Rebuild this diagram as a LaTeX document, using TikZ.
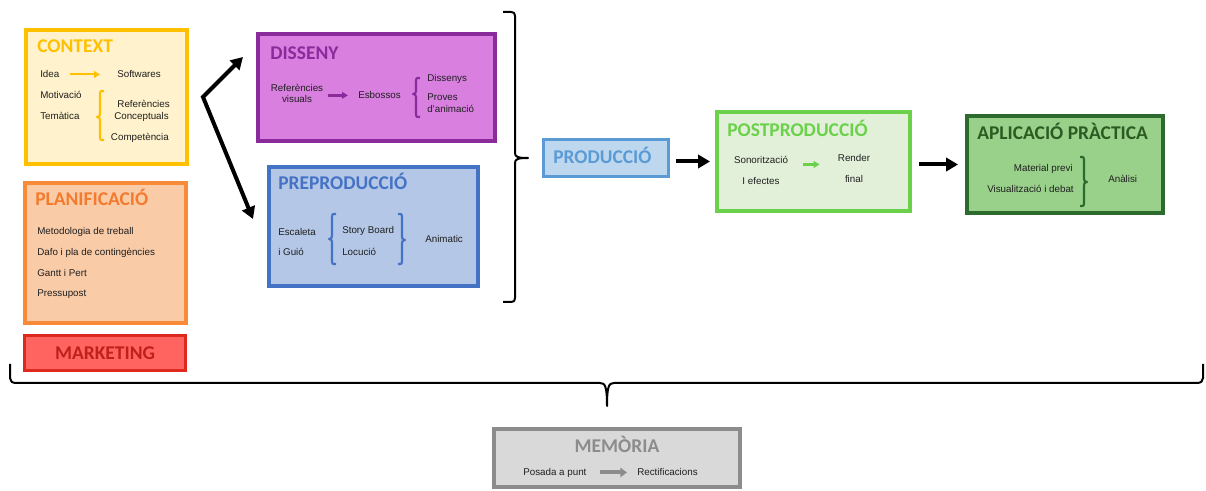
\documentclass[tikz,border=0pt]{standalone}
\usepackage{fontspec}
\setmainfont{Liberation Sans}
\newfontfamily\ttlfont{Carlito}
\usetikzlibrary{arrows.meta}
\definecolor{ctxB}{HTML}{FFC000}\definecolor{ctxF}{HTML}{FFF2CC}
\definecolor{planB}{HTML}{F98A38}\definecolor{planF}{HTML}{F9CBA7}\definecolor{planT}{HTML}{F47B2E}
\definecolor{mkB}{HTML}{DE2A1E}\definecolor{mkF}{HTML}{FF6461}\definecolor{mkT}{HTML}{C0201A}
\definecolor{disB}{HTML}{8A2B9C}\definecolor{disF}{HTML}{D97FE0}
\definecolor{preB}{HTML}{4472C4}\definecolor{preF}{HTML}{B4C7E7}
\definecolor{prodB}{HTML}{5B9BD5}\definecolor{prodF}{HTML}{BDD7EE}
\definecolor{postB}{HTML}{6BD14A}\definecolor{postF}{HTML}{E2F0D9}
\definecolor{aplB}{HTML}{2D6A2D}\definecolor{aplF}{HTML}{99D18A}\definecolor{aplT}{HTML}{2B5B22}
\definecolor{memB}{HTML}{8C8C8C}\definecolor{memF}{HTML}{D9D9D9}
% #1 colour, #2 x, #3 top, #4 bottom, #5 tip y, #6 direction (+1 hooks right / tip left, -1 mirrored)
\newcommand\brac[6]{%
  \draw[#1, line width=1.6pt, line join=round]
    ({#2+4*#6},#3) .. controls (#2,#3) and (#2,#3) .. (#2,{#3+3})
    -- (#2,{#5-3}) .. controls (#2,{#5-1}) and ({#2-1*#6},#5) .. ({#2-3*#6},#5)
    .. controls ({#2-1*#6},#5) and (#2,{#5+1}) .. (#2,{#5+3})
    -- (#2,{#4-3}) .. controls (#2,#4) and (#2,#4) .. ({#2+4*#6},#4);}
\begin{document}
\begin{tikzpicture}[x=0.75pt,y=-0.75pt,
  txt/.style={inner sep=0pt, font=\fontsize{7.35}{8.5}\selectfont, text=black!88},
  ttl/.style={inner sep=0pt, font=\ttlfont\bfseries\fontsize{14.6}{16}\selectfont},
  box/.style={draw, line width=3pt, inner sep=0pt},
  bigarrow/.style={line width=3pt, -{Triangle[length=9pt,width=10pt]}},
  smallarrow/.style={line width=#1, -{Triangle[length=4.5pt,width=5pt]}},
]
\useasboundingbox (0,0) rectangle (1206,491);

% ---------- boxes ----------
\node[box, draw=ctxB, fill=ctxF, minimum width=120.75pt, minimum height=100.5pt] (ctx) at (106.5,97) {};
\node[box, draw=planB, fill=planF, minimum width=120.75pt, minimum height=105pt] (plan) at (105.5,253) {};
\node[box, line width=2.25pt, draw=mkB, fill=mkF, minimum width=120.75pt, minimum height=26.25pt] (mk) at (105,353) {};
\node[box, draw=disB, fill=disF, minimum width=177.75pt, minimum height=80.25pt] (dis) at (376.5,87.5) {};
\node[box, draw=preB, fill=preF, minimum width=156.75pt, minimum height=89.25pt] (pre) at (373.5,226.5) {};
\node[box, line width=2.25pt, draw=prodB, fill=prodF, minimum width=93.75pt, minimum height=27.75pt] (prod) at (606,158) {};
\node[box, draw=postB, fill=postF, minimum width=144.75pt, minimum height=74.25pt] (post) at (813.5,161.5) {};
\node[box, draw=aplB, fill=aplF, minimum width=147pt, minimum height=72.75pt] (apl) at (1065,164.5) {};
\node[box, draw=memB, fill=memF, minimum width=184.5pt, minimum height=43.5pt] (mem) at (617,458) {};

% ---------- titles ----------
\node[ttl, text=ctxB, anchor=base west] (tctx) at (37,53) {CONTEXT};
\node[ttl, text=planT, anchor=base west] (tplan) at (35,206) {PLANIFICACIÓ};
\node[ttl, text=mkT, anchor=base] (tmk) at (105,360) {MARKETING};
\node[ttl, text=disB, anchor=base west] (tdis) at (270,60) {DISSENY};
\node[ttl, text=preB, anchor=base west] (tpre) at (278,190) {PREPRODUCCIÓ};
\node[ttl, text=prodB, anchor=base west] (tprod) at (553,164) {PRODUCCIÓ};
\node[ttl, text=postB, anchor=base west] (tpost) at (727,137) {POSTPRODUCCIÓ};
\node[ttl, text=aplT, anchor=base west] (tapl) at (977,140) {APLICACIÓ PRÀCTICA};
\node[ttl, text=memB, anchor=base] (tmem) at (617,452) {MEMÒRIA};

% ---------- CONTEXT content ----------
\node[txt, anchor=base west] (idea) at (40,78) {Idea};
\node[txt, anchor=base west] (soft) at (117,78) {Softwares};
\node[txt, anchor=base west] (moti) at (40,99) {Motivació};
\node[txt, anchor=base west] (tema) at (40,120) {Temàtica};
\node[txt, anchor=base east] (refc) at (170,108) {Referències};
\node[txt, anchor=base east] (conc) at (169,120) {Conceptuals};
\node[txt, anchor=base east] (comp) at (169,141) {Competència};
\draw[ctxB, smallarrow=1.5pt, shorten <=7.5pt, shorten >=12.75pt] (idea.east) -- (soft.west |- idea.east);
\brac{ctxB}{100}{91}{140}{117}{1}

% ---------- PLANIFICACIO content ----------
\node[txt, anchor=base west] (p1) at (37,235) {Metodologia de treball};
\node[txt, anchor=base west] (p2) at (37,256) {Dafo i pla de contingències};
\node[txt, anchor=base west] (p3) at (37,277) {Gantt i Pert};
\node[txt, anchor=base west] (p4) at (37,297) {Pressupost};

% ---------- DISSENY content ----------
\node[txt, anchor=base] (rv1) at (297,92) {Referències};
\node[txt, anchor=base] (rv2) at (297,103) {visuals};
\node[txt, anchor=base west] (esb) at (358,99) {Esbossos};
\draw[disB, smallarrow=2.2pt, shorten <=3.75pt, shorten >=7.5pt] ([yshift=-2.25pt]rv1.south east) -- ([yshift=-2.25pt]rv1.south east -| esb.west);
\brac{disB}{416}{78}{117}{94}{1}
\node[txt, anchor=base west] (dsn) at (427,82) {Dissenys};
\node[txt, anchor=base west] (prv) at (427,101) {Proves};
\node[txt, anchor=base west] (dan) at (427,113) {d'animació};

% ---------- PREPRODUCCIO content ----------
\node[txt, anchor=base west] (esc) at (278,236) {Escaleta};
\node[txt, anchor=base west] (gui) at (278,256) {i Guió};
\brac{preB}{332}{214}{264}{239}{1}
\node[txt, anchor=base west] (sb) at (342,234) {Story Board};
\node[txt, anchor=base west] (loc) at (342,256) {Locució};
\brac{preB}{402}{214}{264}{240}{-1}
\node[txt, anchor=base west] (anim) at (425,243) {Animatic};

% ---------- big right brace ----------
\draw[line width=1.5pt, line join=round]
  (503,12) -- (511,12) .. controls (514,12) and (515,13) .. (515,16)
  -- (515,153) .. controls (515,157) and (518,158) .. (528,158)
  .. controls (518,158) and (515,159) .. (515,163)
  -- (515,298) .. controls (515,301) and (514,302) .. (511,302) -- (503,302);

% ---------- fork arrows ----------
\coordinate (fork) at (203,97);
\coordinate (dtip) at (243,57);
\coordinate (ptip) at (253,219);
\draw[line width=3pt, line join=miter, {Triangle[length=9pt,width=10pt]}-{Triangle[length=9pt,width=10pt]}]
  (dtip) -- (fork) -- (ptip);

% ---------- flow arrows ----------
\draw[bigarrow, shorten <=4.5pt, shorten >=3.75pt] (post.west -| prod.east) -- (post.west);
\draw[bigarrow, shorten <=5.25pt, shorten >=5.25pt] (apl.west -| post.east) -- (apl.west);

% ---------- POSTPRODUCCIO content ----------
\node[txt, anchor=base] (sono) at (761,164) {Sonorització};
\node[txt, anchor=base] (efe) at (761,185) {I efectes};
\node[txt, anchor=base] (rend) at (854,162) {Render};
\node[txt, anchor=base] (fin) at (854,183) {final};
\draw[postB, smallarrow=2.2pt, shorten <=11pt, shorten >=13.5pt] ([yshift=-3pt]sono.east) -- ([yshift=-3pt]sono.east -| rend.west);

% ---------- APLICACIO content ----------
\node[txt, anchor=base east] (matp) at (1073,172) {Material previ};
\node[txt, anchor=base east] (visd) at (1074,193) {Visualització i debat};
\brac{aplB}{1084}{157}{206}{182}{-1}
\node[txt, anchor=base west] (anal) at (1108,183) {Anàlisi};

% ---------- bottom brace ----------
\draw[line width=1.5pt, line join=round]
  (10,364) -- (10,378) .. controls (10,381) and (12,383) .. (16,383)
  -- (600,383) .. controls (605,383) and (607,386) .. (607,406)
  .. controls (607,386) and (609,383) .. (614,383)
  -- (1197,383) .. controls (1201,383) and (1203,381) .. (1203,378) -- (1203,364);

% ---------- MEMORIA content ----------
\node[txt, anchor=base west] (pos) at (523,475) {Posada a punt};
\node[txt, anchor=base west] (rec) at (637,475) {Rectificacions};
\draw[memB, line width=3pt, -{Triangle[length=5pt,width=7pt]}, shorten <=10pt, shorten >=7.5pt] (pos.east) -- (pos.east -| rec.west);
\end{tikzpicture}
\end{document}
